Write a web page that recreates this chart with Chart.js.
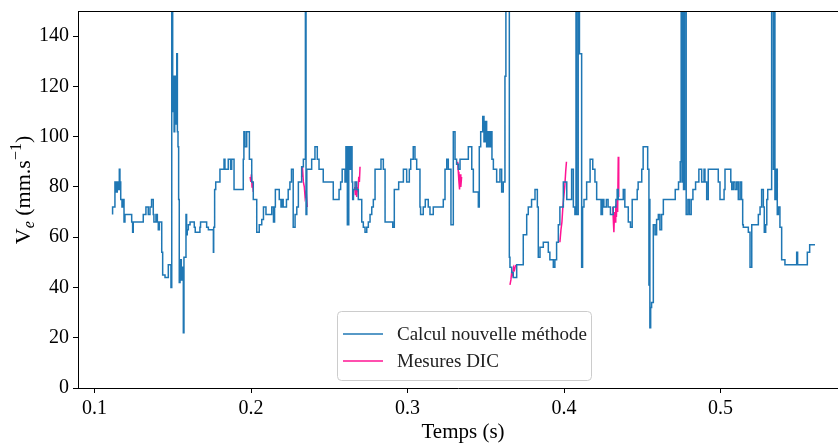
<!DOCTYPE html>
<html>
<head>
<meta charset="utf-8">
<script src="https://cdn.jsdelivr.net/npm/chart.js@4.4.1/dist/chart.umd.min.js"></script>
<style>
  body { margin: 0; background: #fff; }
  canvas { display: block; }
</style>
</head>
<body>
<canvas id="veChart" width="838" height="443"></canvas>
<script>
// Time axis ticks and value axis ticks
const xTicks = [0.1, 0.2, 0.3, 0.4, 0.5];
const yTicks = [0, 20, 40, 60, 80, 100, 120, 140];

// Calcul nouvelle méthode: time (s) where the step starts, value (mm/s)
const calcT = [
  0.1115, 0.1130, 0.1137, 0.1145, 0.1152, 0.1158, 0.1162, 0.1167, 0.1175, 0.1183,
  0.1188, 0.1194, 0.1237, 0.1243, 0.1247, 0.1311, 0.1328, 0.1343, 0.1354, 0.1364,
  0.1375, 0.1379, 0.1392, 0.1401, 0.1407, 0.1414, 0.1429, 0.1435, 0.1450, 0.1471,
  0.1488, 0.1493, 0.1499, 0.1503, 0.1508, 0.1512, 0.1516, 0.1520, 0.1525, 0.1529,
  0.1533, 0.1537, 0.1541, 0.1546, 0.1554, 0.1561, 0.1567, 0.1571, 0.1584, 0.1588,
  0.1592, 0.1599, 0.1610, 0.1637, 0.1643, 0.1673, 0.1677, 0.1716, 0.1727, 0.1759,
  0.1761, 0.1767, 0.1774, 0.1801, 0.1827, 0.1833, 0.1854, 0.1869, 0.1876, 0.1891,
  0.1950, 0.1954, 0.1961, 0.1972, 0.1989, 0.2004, 0.2014, 0.2036, 0.2052, 0.2068,
  0.2079, 0.2095, 0.2132, 0.2143, 0.2150, 0.2155, 0.2180, 0.2191, 0.2197, 0.2205,
  0.2226, 0.2237, 0.2248, 0.2258, 0.2269, 0.2281, 0.2292, 0.2302, 0.2323, 0.2334,
  0.2347, 0.2351, 0.2356, 0.2387, 0.2408, 0.2423, 0.2434, 0.2461, 0.2525, 0.2562,
  0.2572, 0.2582, 0.2600, 0.2606, 0.2615, 0.2624, 0.2628, 0.2636, 0.2645, 0.2649,
  0.2654, 0.2664, 0.2675, 0.2685, 0.2707, 0.2717, 0.2728, 0.2739, 0.2749, 0.2760,
  0.2771, 0.2781, 0.2792, 0.2830, 0.2845, 0.2856, 0.2905, 0.2915, 0.2943, 0.2973,
  0.2994, 0.3011, 0.3020, 0.3036, 0.3047, 0.3058, 0.3079, 0.3083, 0.3100, 0.3113,
  0.3132, 0.3143, 0.3164, 0.3228, 0.3239, 0.3250, 0.3260, 0.3277, 0.3292, 0.3303,
  0.3313, 0.3324, 0.3335, 0.3388, 0.3410, 0.3420, 0.3452, 0.3458, 0.3467, 0.3480,
  0.3488, 0.3497, 0.3505, 0.3514, 0.3522, 0.3531, 0.3539, 0.3548, 0.3569, 0.3590,
  0.3601, 0.3611, 0.3622, 0.3628, 0.3650, 0.3654, 0.3665, 0.3675, 0.3697, 0.3739,
  0.3761, 0.3771, 0.3792, 0.3814, 0.3829, 0.3835, 0.3846, 0.3867, 0.3899, 0.3909,
  0.3931, 0.3941, 0.3952, 0.3963, 0.3973, 0.3995, 0.4017, 0.4048, 0.4059, 0.4069,
  0.4076, 0.4080, 0.4090, 0.4098, 0.4112, 0.4118, 0.4127, 0.4144, 0.4166, 0.4183,
  0.4197, 0.4208, 0.4236, 0.4245, 0.4254, 0.4270, 0.4281, 0.4296, 0.4314, 0.4331,
  0.4339, 0.4346, 0.4378, 0.4388, 0.4410, 0.4424, 0.4435, 0.4467, 0.4473, 0.4496,
  0.4505, 0.4534, 0.4542, 0.4544, 0.4548, 0.4553, 0.4559, 0.4570, 0.4581, 0.4591,
  0.4602, 0.4612, 0.4623, 0.4634, 0.4710, 0.4731, 0.4742, 0.4748, 0.4753, 0.4759,
  0.4763, 0.4770, 0.4780, 0.4791, 0.4801, 0.4812, 0.4823, 0.4840, 0.4861, 0.4879,
  0.4894, 0.4900, 0.4911, 0.4921, 0.4985, 0.4996, 0.5022, 0.5028, 0.5065, 0.5071,
  0.5081, 0.5092, 0.5103, 0.5113, 0.5124, 0.5134, 0.5141, 0.5145, 0.5177, 0.5188,
  0.5199, 0.5241, 0.5252, 0.5262, 0.5273, 0.5279, 0.5288, 0.5295, 0.5301, 0.5326,
  0.5337, 0.5343, 0.5347, 0.5354, 0.5362, 0.5369, 0.5379, 0.5390, 0.5411, 0.5486,
  0.5492, 0.5554, 0.5569, 0.5582, 0.5603
];
const calcV = [
  69, 72, 82, 78, 82, 79, 87, 82, 75, 72,
  75, 66, 69, 66, 62, 66, 69, 72, 69, 72,
  75, 69, 66, 69, 66, 63, 66, 54, 45, 44,
  49, 40, 170, 110, 124, 102, 124, 105, 120, 133,
  102, 96, 75, 42, 51, 43, 48, 22, 52, 69,
  61, 63, 65, 66, 64, 62, 64, 66, 64, 63,
  54, 64, 79, 82, 87, 91, 87, 91, 87, 91,
  79, 91, 102, 96, 102, 91, 82, 75, 62, 65,
  67, 72, 69, 72, 66, 72, 79, 75, 72, 75,
  72, 75, 79, 82, 87, 64, 69, 72, 82, 88,
  91, 170, 69, 87, 91, 96, 91, 87, 82, 75,
  79, 82, 87, 82, 96, 65, 96, 87, 96, 82,
  75, 79, 82, 79, 75, 66, 64, 62, 64, 66,
  69, 72, 75, 87, 91, 87, 66, 64, 79, 82,
  87, 82, 87, 91, 96, 91, 87, 72, 69, 72,
  75, 72, 69, 72, 75, 87, 91, 87, 65, 102,
  91, 89, 87, 91, 96, 87, 78, 72, 96, 102,
  108, 98, 106, 96, 102, 96, 102, 91, 87, 82,
  87, 78, 82, 124, 170, 52, 48, 46, 44, 49,
  61, 69, 72, 75, 79, 72, 52, 56, 58, 54,
  51, 48, 51, 58, 65, 72, 82, 75, 87, 72,
  69, 170, 69, 170, 133, 48, 72, 75, 82, 91,
  87, 82, 75, 69, 75, 72, 75, 72, 69, 72,
  75, 79, 75, 79, 72, 66, 64, 75, 79, 82,
  87, 96, 87, 41, 75, 24, 32, 34, 65, 61,
  67, 69, 63, 69, 75, 79, 82, 90, 170, 82,
  170, 79, 170, 69, 75, 69, 75, 79, 82, 87,
  82, 87, 82, 75, 87, 82, 75, 79, 87, 82,
  79, 82, 79, 82, 75, 82, 75, 65, 64, 62,
  48, 65, 69, 72, 79, 72, 62, 65, 75, 79,
  170, 87, 170, 75, 87, 69, 72, 64, 51, 49,
  54, 49, 54, 57, 57
];

// Mesures DIC: short measured windows, null separates them
const dicT = [
  0.1994, 0.1998, 0.2002, 0.2006, 0.2010, 0.2014, null,
  0.2323, 0.2328, 0.2334, 0.2340, 0.2345, 0.2352, 0.2359, null,
  0.2662, 0.2666, 0.2670, 0.2675, 0.2679, 0.2683, 0.2688, 0.2692, 0.2696, null,
  0.3320, 0.3324, 0.3328, 0.3332, 0.3336, 0.3340, 0.3345, null,
  0.3654, 0.3660, 0.3665, 0.3671, 0.3677, 0.3683, 0.3690, null,
  0.3973, 0.3980, 0.3986, 0.3992, 0.3998, 0.4004, 0.4010, 0.4015, null,
  0.4311, 0.4315, 0.4318, 0.4322, 0.4326, 0.4330, 0.4334, 0.4338, 0.4342, 0.4346, 0.4349
];
const dicV = [
  84, 82, 85, 80, 82, 78, null,
  84, 88, 82, 80, 76, 78, 72, null,
  80, 77, 82, 76, 80, 78, 84, 82, 88, null,
  90, 86, 82, 79, 85, 80, 84, null,
  41, 43, 46, 45, 48, 47, 49, null,
  58, 63, 66, 72, 76, 80, 86, 90, null,
  72, 66, 62, 70, 66, 73, 68, 75, 70, 92, 76
];

const FONT = "'Liberation Serif', 'DejaVu Serif', serif";

function toPoints(ts, vs) {
  return ts.map((t, i) => (t === null ? { x: NaN, y: null } : { x: t, y: vs[i] }));
}

// frame, axis titles and legend drawn like the matplotlib figure
const figureExtras = {
  id: "figureExtras",
  afterDraw(chart) {
    const ctx = chart.ctx;
    const area = chart.chartArea;
    ctx.save();

    // top spine
    ctx.strokeStyle = "#000";
    ctx.lineWidth = 1;
    ctx.beginPath();
    ctx.moveTo(area.left, area.top + 0.5);
    ctx.lineTo(area.right, area.top + 0.5);
    ctx.stroke();

    // x title
    ctx.fillStyle = "#000";
    ctx.font = "21px " + FONT;
    ctx.textAlign = "center";
    ctx.textBaseline = "alphabetic";
    ctx.fillText("Temps (s)", 463, 438);

    // y title with subscript and superscript
    const parts = [
      { t: "V", f: "22px " + FONT, dy: 0 },
      { t: "e", f: "italic 16px " + FONT, dy: 4 },
      { t: " (mm.s", f: "22px " + FONT, dy: 0 },
      { t: "\u22121", f: "16px " + FONT, dy: -9 },
      { t: ")", f: "22px " + FONT, dy: 0 },
    ];
    let total = 0;
    parts.forEach((p) => { ctx.font = p.f; p.w = ctx.measureText(p.t).width; total += p.w; });
    ctx.translate(30, 190);
    ctx.rotate(-Math.PI / 2);
    ctx.textAlign = "left";
    let cx = -total / 2;
    parts.forEach((p) => { ctx.font = p.f; ctx.fillText(p.t, cx, p.dy); cx += p.w; });
    ctx.restore();

    // legend box inside the plot
    ctx.save();
    const bx = 337, by = 311, bw = 254, bh = 69;
    ctx.fillStyle = "rgba(255,255,255,0.85)";
    ctx.strokeStyle = "#cccccc";
    ctx.lineWidth = 1;
    ctx.beginPath();
    ctx.roundRect(bx + 0.5, by + 0.5, bw, bh, 4);
    ctx.fill();
    ctx.stroke();
    ctx.font = "19px " + FONT;
    ctx.textBaseline = "middle";
    ctx.textAlign = "left";
    chart.data.datasets.forEach((ds, i) => {
      const ly = 334 + i * 27;
      ctx.strokeStyle = ds.borderColor;
      ctx.lineWidth = 1.5;
      ctx.beginPath();
      ctx.moveTo(343, ly);
      ctx.lineTo(383, ly);
      ctx.stroke();
      ctx.fillStyle = "#222";
      ctx.fillText(ds.label, 397, ly + 1);
    });
    ctx.restore();
  },
};

new Chart(document.getElementById("veChart"), {
  type: "line",
  data: {
    datasets: [
      {
        label: "Calcul nouvelle méthode",
        data: toPoints(calcT, calcV),
        borderColor: "#1f77b4",
        borderWidth: 1.5,
        pointRadius: 0,
        stepped: "after",
        fill: false,
      },
      {
        label: "Mesures DIC",
        data: toPoints(dicT, dicV),
        borderColor: "#ff1493",
        borderWidth: 1.5,
        pointRadius: 0,
        spanGaps: false,
        fill: false,
      },
    ],
  },
  options: {
    responsive: false,
    animation: false,
    layout: { padding: { top: 11, right: 0, bottom: 0, left: 0 } },
    plugins: {
      legend: { display: false },
      tooltip: { enabled: false },
    },
    scales: {
      x: {
        type: "linear",
        min: 0.0894,
        max: 0.575,
        afterFit: (s) => { s.height = 55; s.paddingLeft = 0; s.paddingRight = 0; },
        afterBuildTicks: (s) => { s.ticks = xTicks.map((v) => ({ value: v })); },
        grid: { drawOnChartArea: false, drawTicks: true, tickLength: 5, color: "#000" },
        border: { display: true, color: "#000", width: 1 },
        ticks: {
          color: "#000",
          padding: 4,
          maxRotation: 0,
          font: { family: FONT, size: 20 },
          callback: (v) => v.toFixed(1),
        },
      },
      y: {
        min: 0,
        max: 150,
        afterFit: (s) => { s.width = 78; s.paddingTop = 0; s.paddingBottom = 0; },
        afterBuildTicks: (s) => { s.ticks = yTicks.map((v) => ({ value: v })); },
        grid: { drawOnChartArea: false, drawTicks: true, tickLength: 5, color: "#000" },
        border: { display: true, color: "#000", width: 1 },
        ticks: {
          color: "#000",
          padding: 4,
          font: { family: FONT, size: 20 },
        },
      },
    },
  },
  plugins: [figureExtras],
});
</script>
</body>
</html>
